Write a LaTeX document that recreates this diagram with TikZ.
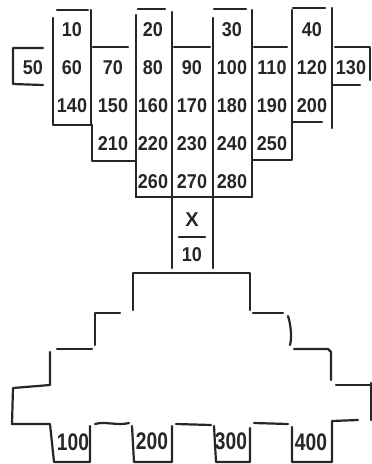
\documentclass[tikz,border=0pt]{standalone}
\usepackage{fontspec}
\setmainfont{Liberation Sans}
\begin{document}
\begin{tikzpicture}[x=1pt,y=-1pt,
  ln/.style={draw=black!85,line width=2.2pt,line cap=round,line join=round},
  num/.style={font=\bfseries\fontsize{20}{20}\selectfont,text=black!85,inner sep=0pt},
  tabnum/.style={font=\bfseries\fontsize{24}{24}\selectfont,text=black!85,inner sep=0pt}]
\useasboundingbox (0,0) rectangle (372,464);
\newcommand\nn[1]{\scalebox{0.9}[1]{#1}}
\newcommand\tn[1]{\scalebox{0.8}[1]{#1}}
% numbers
\def\ra{30}\def\rb{68}\def\rc{106}\def\rd{144}\def\re{182}
\node[num] (n50) at (33,\rb) {\nn{50}};
\node[num] (n10) at (72,\ra) {\nn{10}};
\node[num] (n60) at (72,\rb) {\nn{60}};
\node[num] (n140) at (72,\rc) {\nn{140}};
\node[num] (n70) at (113,\rb) {\nn{70}};
\node[num] (n150) at (113,\rc) {\nn{150}};
\node[num] (n210) at (113,\rd) {\nn{210}};
\node[num] (n20) at (153,\ra) {\nn{20}};
\node[num] (n80) at (153,\rb) {\nn{80}};
\node[num] (n160) at (153,\rc) {\nn{160}};
\node[num] (n220) at (153,\rd) {\nn{220}};
\node[num] (n260) at (153,\re) {\nn{260}};
\node[num] (n90) at (192,\rb) {\nn{90}};
\node[num] (n170) at (192,\rc) {\nn{170}};
\node[num] (n230) at (192,\rd) {\nn{230}};
\node[num] (n270) at (192,\re) {\nn{270}};
\node[num] (n30) at (232,\ra) {\nn{30}};
\node[num] (n100) at (232,\rb) {\nn{100}};
\node[num] (n180) at (232,\rc) {\nn{180}};
\node[num] (n240) at (232,\rd) {\nn{240}};
\node[num] (n280) at (232,\re) {\nn{280}};
\node[num] (n110) at (272,\rb) {\nn{110}};
\node[num] (n190) at (272,\rc) {\nn{190}};
\node[num] (n250) at (272,\rd) {\nn{250}};
\node[num] (n40) at (312,\ra) {\nn{40}};
\node[num] (n120) at (312,\rb) {\nn{120}};
\node[num] (n200) at (312,\rc) {\nn{200}};
\node[num] (n130) at (351,\rb) {\nn{130}};
% X / 10
\node[num] (nx) at (192,220) {X};
\node[num] (nx10) at (192,255) {\nn{10}};
\draw[ln] (179,237) -- (205,237);
% top grid outlines
\draw[ln] (43,48) -- (13,48) -- (13,84) -- (43,85);
\draw[ln] (53,18) -- (53,125) -- (92,125);
\draw[ln] (57,10) -- (88,10);
\draw[ln] (91,10) -- (91,125);
\draw[ln] (93,47) -- (128,47);
\draw[ln] (92,125) -- (92,161) -- (135,161);
\draw[ln] (136,15) -- (136,197);
\draw[ln] (138,9) -- (165,9);
\draw[ln] (172,12) -- (172,268);
\draw[ln] (174,47) -- (210,47);
\draw[ln] (213,18) -- (213,268);
\draw[ln] (214,9) -- (246,9);
\draw[ln] (252,10) -- (252,197);
\draw[ln] (254,47) -- (287,47);
\draw[ln] (292,10) -- (292,160) -- (252,160);
\draw[ln] (293,8) -- (325,8);
\draw[ln] (332,8) -- (332,128);
\draw[ln] (292,122) -- (322,122);
\draw[ln] (335,47) -- (370,47) -- (370,80);
\draw[ln] (332,85) -- (360,85);
\draw[ln] (136,197) -- (252,197);
% stepped shape
\draw[ln] (133,310) -- (133,273) -- (250,273) -- (250,310);
\draw[ln] (120,313) -- (95,313) -- (95,345);
\draw[ln] (92,349) -- (57,349);
\draw[ln] (50,352) -- (50,385) -- (13,388) -- (12,424) -- (50,424) -- (54,462) -- (90,462) -- (90,426);
\draw[ln] (95,424) .. controls (105,421) and (118,426) .. (129,423);
\draw[ln] (132,426) -- (134,462) -- (172,462) -- (172,426);
\draw[ln] (176,424) -- (211,425);
\draw[ln] (214,426) -- (216,462) -- (250,462) -- (250,428);
\draw[ln] (254,423) -- (288,424);
\draw[ln] (292,427) -- (292,462) -- (332,462) -- (332,421) -- (358,420);
\draw[ln] (253,313) -- (283,313);
\draw[ln] (288,316) .. controls (291,325) and (292,338) .. (290,345);
\draw[ln] (294,349) -- (328,349) -- (331,352) -- (331,380);
\draw[ln] (336,385) -- (370,385);
\draw[ln] (371,383) -- (371,420);
% tab labels
\node[tabnum] (t100) at (73,442) {\tn{100}};
\node[tabnum] (t200) at (152,441) {\tn{200}};
\node[tabnum] (t300) at (231,441) {\tn{300}};
\node[tabnum] (t400) at (311,442) {\tn{400}};
\end{tikzpicture}
\end{document}
